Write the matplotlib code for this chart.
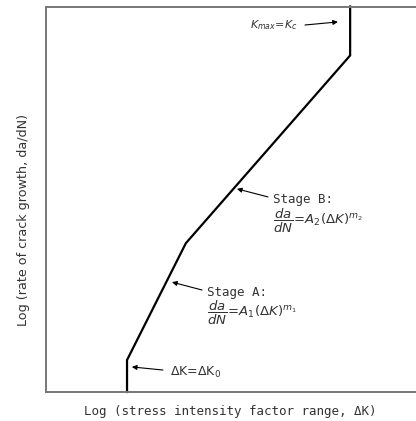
import matplotlib
matplotlib.use("Agg")
import matplotlib.pyplot as plt

# Fatigue crack growth curve (log-log, normalized axes)
log_dK = [0.219, 0.219, 0.378, 0.822, 0.822]
log_dadN = [0.0, 0.083, 0.386, 0.873, 1.0]

x_label = "Log (stress intensity factor range, ΔK)"
y_label = "Log (rate of crack growth, da/dN)"

fig = plt.figure(figsize=(4.16, 4.21), dpi=100)
ax = fig.add_axes([46/416, (421-392)/421, 1-46/416, (392-6.5)/421])
ax.set_xlim(0, 1)
ax.set_ylim(0, 1)
ax.set_xticks([])
ax.set_yticks([])
for s in ["left", "top", "bottom"]:
    ax.spines[s].set_color("#777777")
    ax.spines[s].set_linewidth(1.4)
ax.spines["right"].set_visible(False)

ax.plot(log_dK, log_dadN, color="black", lw=1.6, solid_joinstyle="miter", clip_on=False)

tc = "#333333"
mono = "DejaVu Sans Mono"
ap = dict(arrowstyle="-|>", color="black", lw=0.8, mutation_scale=7, shrinkA=0, shrinkB=0)

ax.annotate("", xy=(0.789, 0.960), xytext=(0.700, 0.952), arrowprops=ap)
ax.text(0.551, 0.952, r"$K_{max}\!=\!K_c$", fontsize=8, color=tc, va="center", ha="left")

ax.annotate("", xy=(0.516, 0.527), xytext=(0.600, 0.506), arrowprops=ap)
ax.text(0.614, 0.5006, "Stage B:", fontsize=9, color=tc, va="center", ha="left", family=mono)
ax.text(0.614, 0.4436, r"$\dfrac{da}{dN}\!=\!A_2(\Delta K)^{m_2}$", fontsize=9.5, color=tc, va="center", ha="left")

ax.annotate("", xy=(0.3405, 0.285), xytext=(0.4216, 0.2646), arrowprops=ap)
ax.text(0.435, 0.259, "Stage A:", fontsize=9, color=tc, va="center", ha="left", family=mono)
ax.text(0.435, 0.205, r"$\dfrac{da}{dN}\!=\!A_1(\Delta K)^{m_1}$", fontsize=9.5, color=tc, va="center", ha="left")

ax.annotate("", xy=(0.232, 0.065), xytext=(0.316, 0.057), arrowprops=ap)
ax.text(0.335, 0.052, r"ΔK=ΔK$_0$", fontsize=9, color=tc, va="center", ha="left")

fig.text(230/416, 1-412/421, x_label, fontsize=9, color=tc, ha="center", va="center", family=mono)
fig.text(24/416, 1-220/421, y_label, fontsize=9.2, color=tc, ha="center", va="center", rotation=90)

fig.savefig("out.png", dpi=100)
